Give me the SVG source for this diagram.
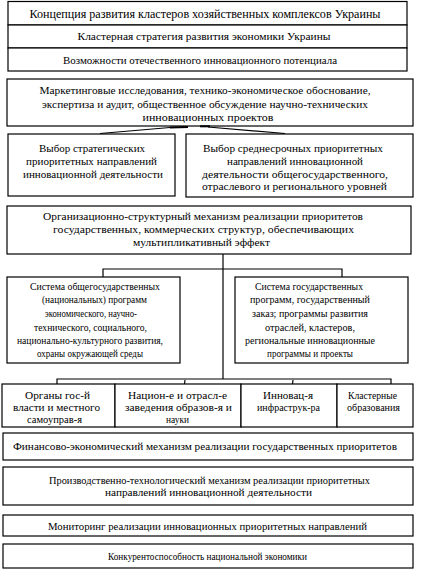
<svg xmlns="http://www.w3.org/2000/svg" width="421" height="569" viewBox="0 0 421 569">
<style>
rect{fill:#fff;stroke:#000;stroke-width:1.2}
text{font-family:"Liberation Serif","Times New Roman","DejaVu Serif",serif;font-size:10.5px;fill:#000;text-anchor:middle}
.t{font-size:12px}
.s{font-size:10px}
.c{fill:none;stroke:#000;stroke-width:1.2}
</style>
<rect x="0" y="0" width="421" height="569" style="stroke:none"/>
<g id="concept">
<rect x="8" y="1.5" width="399" height="23.5"/>
<text class="t" x="205" y="18" textLength="351" lengthAdjust="spacingAndGlyphs">Концепция развития кластеров хозяйственных комплексов Украины</text>
</g>
<g id="cluster-strategy">
<rect x="8" y="25" width="399" height="23"/>
<text x="204" y="40" textLength="253" lengthAdjust="spacingAndGlyphs">Кластерная стратегия развития экономики Украины</text>
</g>
<g id="potential">
<rect x="8" y="48" width="399" height="23"/>
<text x="200" y="64" textLength="274" lengthAdjust="spacingAndGlyphs">Возможности отечественного инновационного потенциала</text>
</g>
<g id="marketing">
<rect x="7" y="79" width="406" height="47"/>
<text x="205" y="94" textLength="331" lengthAdjust="spacingAndGlyphs">Маркетинговые исследования, технико-экономическое обоснование,</text>
<text x="205" y="108" textLength="326" lengthAdjust="spacingAndGlyphs">экспертиза и аудит, общественное обсуждение научно-технических</text>
<text x="208" y="121" textLength="131" lengthAdjust="spacingAndGlyphs">инновационных проектов</text>
</g>
<g id="strategic">
<rect x="8" y="134" width="167" height="62"/>
<text x="92" y="152" textLength="106" lengthAdjust="spacingAndGlyphs">Выбор стратегических</text>
<text x="91.5" y="165" textLength="131" lengthAdjust="spacingAndGlyphs">приоритетных направлений</text>
<text x="93" y="178" textLength="140" lengthAdjust="spacingAndGlyphs">инновационной деятельности</text>
</g>
<g id="midterm">
<rect x="186" y="134" width="227" height="63"/>
<text x="293" y="152" textLength="180" lengthAdjust="spacingAndGlyphs">Выбор среднесрочных приоритетных</text>
<text x="295" y="165" textLength="136" lengthAdjust="spacingAndGlyphs">направлений инновационной</text>
<text x="295" y="178" textLength="186" lengthAdjust="spacingAndGlyphs">деятельности общегосударственного,</text>
<text x="294.5" y="190" textLength="185" lengthAdjust="spacingAndGlyphs">отраслевого и регионального уровней</text>
</g>
<g id="org-mechanism">
<rect x="7" y="206" width="404" height="48"/>
<text x="203" y="220" textLength="320" lengthAdjust="spacingAndGlyphs">Организационно-структурный механизм реализации приоритетов</text>
<text x="203.5" y="233" textLength="301" lengthAdjust="spacingAndGlyphs">государственных, коммерческих структур, обеспечивающих</text>
<text x="201.5" y="246" textLength="137" lengthAdjust="spacingAndGlyphs">мультипликативный эффект</text>
</g>
<g id="national-programs">
<rect x="7" y="277" width="173" height="86"/>
<text class="s" x="95" y="290" textLength="130" lengthAdjust="spacingAndGlyphs">Система общегосударственных</text>
<text class="s" x="94.5" y="303" textLength="105" lengthAdjust="spacingAndGlyphs">(национальных) программ</text>
<text class="s" x="91" y="317" textLength="92" lengthAdjust="spacingAndGlyphs">экономического, научно-</text>
<text class="s" x="90.5" y="331" textLength="113" lengthAdjust="spacingAndGlyphs">технического, социального,</text>
<text class="s" x="90" y="344" textLength="146" lengthAdjust="spacingAndGlyphs">национально-культурного развития,</text>
<text class="s" x="90" y="357" textLength="106" lengthAdjust="spacingAndGlyphs">охраны окружающей среды</text>
</g>
<g id="state-programs">
<rect x="235" y="277" width="173" height="86"/>
<text class="s" x="309" y="290" textLength="108" lengthAdjust="spacingAndGlyphs">Система государственных</text>
<text class="s" x="310" y="303" textLength="120" lengthAdjust="spacingAndGlyphs">программ, государственный</text>
<text class="s" x="310" y="317" textLength="116" lengthAdjust="spacingAndGlyphs">заказ; программы развития</text>
<text class="s" x="310" y="331" textLength="90" lengthAdjust="spacingAndGlyphs">отраслей, кластеров,</text>
<text class="s" x="310" y="344" textLength="130" lengthAdjust="spacingAndGlyphs">региональные инновационные</text>
<text class="s" x="310" y="357" textLength="86" lengthAdjust="spacingAndGlyphs">программы и проекты</text>
</g>
<g id="authorities">
<rect x="2" y="384" width="113" height="43"/>
<text x="57.5" y="399" textLength="65" lengthAdjust="spacingAndGlyphs">Органы гос-й</text>
<text x="56.5" y="411" textLength="87" lengthAdjust="spacingAndGlyphs">власти и местного</text>
<text x="54.5" y="423" textLength="55" lengthAdjust="spacingAndGlyphs">самоуправ-я</text>
</g>
<g id="education">
<rect x="115" y="384" width="126" height="43"/>
<text x="177.5" y="399" textLength="99" lengthAdjust="spacingAndGlyphs">Национ-е и отрасл-е</text>
<text x="178.5" y="411" textLength="107" lengthAdjust="spacingAndGlyphs">заведения образов-я и</text>
<text x="177.5" y="423" textLength="23" lengthAdjust="spacingAndGlyphs">науки</text>
</g>
<g id="infrastructure">
<rect x="241" y="384" width="96" height="43"/>
<text x="288" y="399" textLength="50" lengthAdjust="spacingAndGlyphs">Инновац-я</text>
<text x="288.5" y="411" textLength="63" lengthAdjust="spacingAndGlyphs">инфраструк-ра</text>
</g>
<g id="clusters">
<rect x="337" y="384" width="76" height="43"/>
<text x="372.5" y="399" textLength="49" lengthAdjust="spacingAndGlyphs">Кластерные</text>
<text x="373.5" y="411" textLength="53" lengthAdjust="spacingAndGlyphs">образования</text>
</g>
<g id="financial">
<rect x="3" y="433" width="410" height="27"/>
<text x="205" y="450" textLength="384" lengthAdjust="spacingAndGlyphs">Финансово-экономический механизм реализации государственных приоритетов</text>
</g>
<g id="production">
<rect x="3" y="467" width="410" height="38"/>
<text x="209.5" y="484" textLength="321" lengthAdjust="spacingAndGlyphs">Производственно-технологический механизм реализации приоритетных</text>
<text x="208.5" y="496" textLength="207" lengthAdjust="spacingAndGlyphs">направлений инновационной деятельности</text>
</g>
<g id="monitoring">
<rect x="3" y="515" width="410" height="21"/>
<text x="207.5" y="530" textLength="319" lengthAdjust="spacingAndGlyphs">Мониторинг реализации инновационных приоритетных направлений</text>
</g>
<g id="competitiveness">
<rect x="3" y="544" width="410" height="24"/>
<text class="s" x="207.5" y="560" textLength="199" lengthAdjust="spacingAndGlyphs">Конкурентоспособность национальной экономики</text>
</g>
<g id="connectors">
<path class="c" d="M100,133.5 L170,127.5 L188,127"/>
<path class="c" d="M170,127.5 L188,127" style="stroke-width:2"/>
<path class="c" d="M200,126.3 L210,126.3" style="stroke-width:2"/>
<path class="c" d="M208,127 L285,133.5"/>
<path class="c" d="M223,254 V379"/>
<path class="c" d="M103,277 V269 H342 V277"/>
<path class="c" d="M57,384 V379 H391 V384"/>
<path class="c" d="M185,380 L184.5,384 M293,380 L292.5,384"/>
</g>
</svg>
